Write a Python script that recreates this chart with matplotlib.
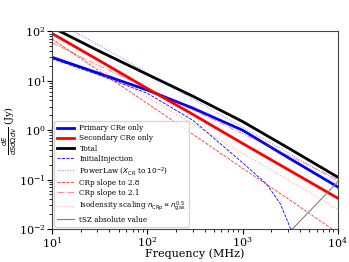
import matplotlib
matplotlib.use("Agg")
import matplotlib.pyplot as plt

plt.rcParams['font.family'] = 'DejaVu Serif'

# frequencies (MHz) and spectra (Jy)
freq = [10, 30, 100, 300, 1000, 3000, 10000]
primary = [30, 14.5, 6.5, 2.8, 1.0, 0.28, 0.071]
secondary = [91, 27, 7.0, 2.1, 0.54, 0.16, 0.042]
total = [121, 41.5, 13.5, 4.9, 1.5, 0.44, 0.112]
power_law = [175, 55, 14.5, 4.3, 1.15, 0.35, 0.092]
crp_28 = [71, 16.6, 3.5, 0.83, 0.17, 0.041, 0.0083]
crp_21 = [59, 21, 7.1, 2.6, 0.85, 0.31, 0.10]
isodensity = [65, 18.6, 4.7, 1.35, 0.34, 0.10, 0.025]

freq_inj = [10, 30, 100, 300, 1000, 1800, 2500, 3200, 4000]
initial_inj = [28, 13.5, 5.6, 1.6, 0.22, 0.08, 0.032, 0.01, 0.0025]

freq_tsz = [3000, 10000]
tsz = [0.0081, 0.09]

fig = plt.figure(figsize=(3.49, 2.62), dpi=100)
ax = fig.add_axes([0.149, 0.126, 0.819, 0.754])

ax.plot(freq, primary, color='b', lw=2, label='Primary CRe only')
ax.plot(freq, secondary, color='r', lw=2, label='Secondary CRe only')
ax.plot(freq, total, color='k', lw=2, label='Total')
ax.plot(freq_inj, initial_inj, color='b', ls='--', lw=0.6, label='InitialInjection')
ax.plot(freq, power_law, color='b', ls=':', lw=0.7, alpha=0.5,
        label=r'PowerLaw ($X_{\rm CR}$ to $10^{-2}$)')
ax.plot(freq, crp_28, color='r', ls='--', lw=0.6, alpha=0.8, label='CRp slope to 2.8')
ax.plot(freq, crp_21, color='r', ls='-.', lw=0.7, alpha=0.45, label='CRp slope to 2.1')
ax.plot(freq, isodensity, color='r', ls=':', lw=0.8, alpha=0.35,
        label=r'Isodensity scaling $n_{\rm CRp} \propto n_{\rm gas}^{0.5}$')
ax.plot(freq_tsz, tsz, color='grey', lw=0.8, label='tSZ absolute value')

ax.set_xscale('log')
ax.set_yscale('log')
ax.set_xlim(10, 1e4)
ax.set_ylim(1e-2, 1e2)
ax.tick_params(labelsize=8, pad=1)
for s in ax.spines.values():
    s.set_color('#444444')

ax.set_xlabel('Frequency (MHz)', fontsize=8)
ax.xaxis.set_label_coords(0.5, -0.1)
ax.set_ylabel(r'$\frac{dE}{dSd\Omega d\nu}$ (Jy)', fontsize=7)
ax.yaxis.set_label_coords(-0.115, 0.5)

ax.legend(loc='lower left', fontsize=5.2, borderaxespad=0.3, handlelength=2.4,
          labelspacing=0.3, borderpad=0.4, handletextpad=0.7, framealpha=0.8)

fig.savefig('out.png', dpi=100)
